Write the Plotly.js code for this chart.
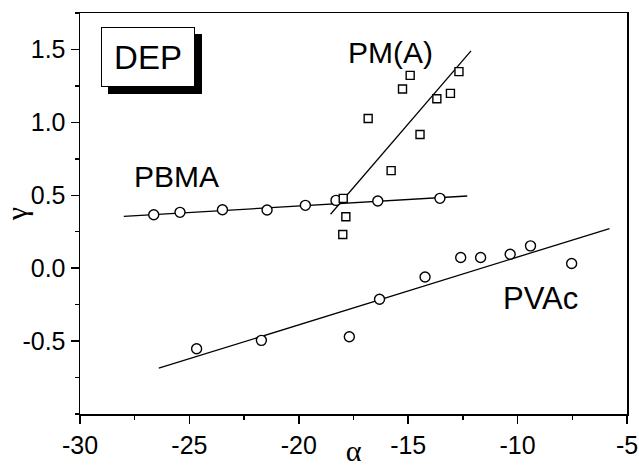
<!DOCTYPE html>
<html>
<head>
<meta charset="utf-8">
<script src="https://cdn.plot.ly/plotly-3.0.1.min.js"></script>
<style>html,body{margin:0;padding:0;background:#fff;}#chart{width:639px;height:467px;}</style>
</head>
<body>
<div id="chart"></div>
<script>
// PBMA (circles)
const pbmaX = [-26.63, -25.43, -23.49, -21.45, -19.70, -18.30, -16.39, -13.55];
const pbmaY = [0.366, 0.383, 0.401, 0.399, 0.431, 0.465, 0.461, 0.479];
const pbmaFitX = [-28.0, -12.3];
const pbmaFitY = [0.355, 0.495];

// PM(A) (squares)
const pmaX = [-17.97, -17.85, -17.99, -15.78, -14.46, -16.83, -15.26, -14.91, -13.69, -13.07, -12.68];
const pmaY = [0.479, 0.353, 0.231, 0.669, 0.917, 1.027, 1.229, 1.322, 1.162, 1.199, 1.348];
const pmaFitX = [-18.55, -12.13];
const pmaFitY = [0.37, 1.49];

// PVAc (circles)
const pvacX = [-24.67, -21.71, -17.69, -16.31, -14.23, -12.60, -11.69, -10.34, -9.41, -7.53];
const pvacY = [-0.553, -0.495, -0.470, -0.213, -0.060, 0.073, 0.073, 0.096, 0.153, 0.032];
const pvacFitX = [-26.4, -5.8];
const pvacFitY = [-0.686, 0.272];

const xTicks = [-30, -25, -20, -15, -10, -5];
const xTickText = ['-30', '-25', '-20', '-15', '-10', '-5'];
const yTicks = [-0.5, 0, 0.5, 1.0, 1.5];
const yTickText = ['-0.5', '0.0', '0.5', '1.0', '1.5'];

const FONT = 'Liberation Sans, Arial, Helvetica, sans-serif';
const SERIF = 'Liberation Serif, Times New Roman, serif';
const lineStyle = {color: '#000', width: 1.3};
const circle = {symbol: 'circle', size: 10, color: '#fff', line: {width: 1.4, color: '#000'}};
const square = {symbol: 'square', size: 8, color: '#fff', line: {width: 1.4, color: '#000'}};

const traces = [
  {x: pbmaFitX, y: pbmaFitY, mode: 'lines', line: lineStyle, hoverinfo: 'skip'},
  {x: pmaFitX, y: pmaFitY, mode: 'lines', line: lineStyle, hoverinfo: 'skip'},
  {x: pvacFitX, y: pvacFitY, mode: 'lines', line: lineStyle, hoverinfo: 'skip'},
  {x: pbmaX, y: pbmaY, mode: 'markers', marker: circle, name: 'PBMA'},
  {x: pmaX, y: pmaY, mode: 'markers', marker: square, name: 'PM(A)'},
  {x: pvacX, y: pvacY, mode: 'markers', marker: circle, name: 'PVAc'}
];

const layout = {
  width: 639, height: 467,
  margin: {l: 79.5, r: 11.7, t: 13, b: 53.3},
  paper_bgcolor: '#fff', plot_bgcolor: '#fff',
  showlegend: false,
  font: {family: FONT, color: '#000', size: 25},
  xaxis: {
    range: [-30, -5], tickmode: 'array', tickvals: xTicks, ticktext: xTickText,
    ticks: 'outside', ticklen: 8, tickwidth: 1.5, tickcolor: '#000',
    minor: {tickmode: 'linear', tick0: -30, dtick: 2.5, ticks: 'outside', ticklen: 4, tickwidth: 1.5, tickcolor: '#000', showgrid: false},
    showline: true, linewidth: 1.5, linecolor: '#000', mirror: true,
    showgrid: false, zeroline: false,
    tickfont: {family: FONT, size: 25, color: '#000'},
    title: {text: 'α', font: {family: SERIF, size: 30, color: '#000'}, standoff: 2}
  },
  yaxis: {
    range: [-1, 1.75], tickmode: 'array', tickvals: yTicks, ticktext: yTickText,
    ticks: 'outside', ticklen: 8, tickwidth: 1.5, tickcolor: '#000',
    minor: {tickmode: 'linear', tick0: 0, dtick: 0.25, ticks: 'outside', ticklen: 4, tickwidth: 1.5, tickcolor: '#000', showgrid: false},
    showline: true, linewidth: 1.5, linecolor: '#000', mirror: true,
    showgrid: false, zeroline: false,
    tickfont: {family: FONT, size: 25, color: '#000'},
    title: {text: 'γ', font: {family: SERIF, size: 30, color: '#000'}, standoff: 2}
  },
  xaxis2: {
    overlaying: 'x', side: 'top', range: [-30, -5], tickmode: 'linear', tick0: -30, dtick: 2.5,
    ticks: 'inside', ticklen: 4, tickwidth: 1.5, tickcolor: '#000',
    showticklabels: false, showline: false, showgrid: false, zeroline: false
  },
  yaxis2: {
    overlaying: 'y', side: 'right', range: [-1, 1.75], tickmode: 'linear', tick0: 0, dtick: 0.25,
    ticks: 'inside', ticklen: 4, tickwidth: 1.5, tickcolor: '#000',
    showticklabels: false, showline: false, showgrid: false, zeroline: false
  },
  annotations: [
    {x: -26.9, y: 1.45, xref: 'x', yref: 'y', text: ' ', showarrow: false,
     font: {family: FONT, size: 33, color: '#000'}, bgcolor: '#000', bordercolor: '#000', borderwidth: 1,
     borderpad: 1, width: 90, height: 56, xshift: 7, yshift: -7},
    {x: -26.9, y: 1.45, xref: 'x', yref: 'y', text: 'DEP', showarrow: false,
     font: {family: FONT, size: 33, color: '#000'}, bgcolor: '#fff', bordercolor: '#000', borderwidth: 1,
     borderpad: 1, width: 90, height: 56, align: 'center', valign: 'middle'},
    {x: -15.81, y: 1.48, xref: 'x', yref: 'y', text: 'PM(A)', showarrow: false,
     font: {family: FONT, size: 30, color: '#000'}},
    {x: -25.61, y: 0.626, xref: 'x', yref: 'y', text: 'PBMA', showarrow: false,
     font: {family: FONT, size: 30, color: '#000'}},
    {x: -8.96, y: -0.206, xref: 'x', yref: 'y', text: 'PVAc', showarrow: false,
     font: {family: FONT, size: 31, color: '#000'}}
  ]
};

Plotly.newPlot('chart', traces, layout, {staticPlot: true, displayModeBar: false});
</script>
</body>
</html>
